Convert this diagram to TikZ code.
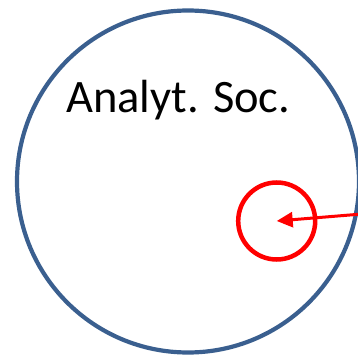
\documentclass[tikz,border=0pt]{standalone}
\usepackage{fontspec}
\setmainfont{Carlito}
\usetikzlibrary{arrows.meta}

\definecolor{socblue}{HTML}{3A5F8F}
\definecolor{ptred}{HTML}{FF0000}

\begin{document}
\begin{tikzpicture}[x=1pt,y=-1pt]

\useasboundingbox (0,0) rectangle (358,355);

% society
\node[circle, draw=socblue, line width=4.2pt, minimum size=342pt, inner sep=0pt] (soc) at (188,181.5) {};

% label
\node[anchor=base west, inner sep=0pt, font=\fontsize{46.5}{46.5}\selectfont] (label) at (66,113) {Analyt. Soc.};

% small circle
\node[circle, draw=ptred, line width=4.5pt, minimum size=77pt, inner sep=0pt] (pt) at (276.7,221) {};

% arrow into it
\coordinate (in) at (362,214);
\draw[ptred, line width=3pt, -{Triangle[length=16pt,width=15pt]}] (in) -- (pt.center);

\end{tikzpicture}
\end{document}
